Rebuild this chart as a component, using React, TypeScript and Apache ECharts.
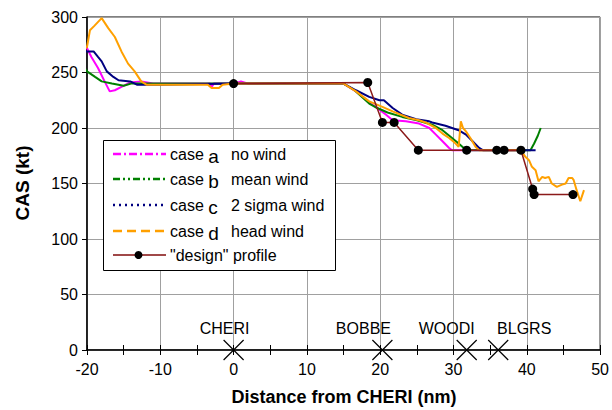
import React, { useEffect, useRef } from "react";
import * as echarts from "echarts";

// ---- data (distance nm, CAS kt) ----
const caseA: number[][] = [
  [-21, 284], [-20.5, 276], [-20, 272], [-19.4, 264], [-18.5, 254], [-17.6, 242], [-16.9, 233],
  [-16.2, 234], [-15.3, 237], [-14.1, 241], [-12.6, 242], [-11, 240], [-3.2, 240], [-3, 237],
  [-2.7, 240], [0, 240], [1, 242], [2, 240], [15, 240], [16.7, 233], [18.5, 223], [19.8, 217],
  [20.8, 212], [21.7, 207], [23.5, 206], [25.3, 204], [26.7, 200], [27.6, 194], [28.5, 188],
  [29.4, 182], [29.8, 180], [38.5, 180],
];
const caseB: number[][] = [
  [-21, 260], [-20, 251], [-18.9, 246], [-18, 242], [-16.6, 240], [-15, 238], [-14, 240],
  [-10, 240], [0, 240], [15, 240], [16.5, 234], [18.5, 222], [19.6, 218], [21, 214], [23, 210],
  [25, 207], [27.1, 203], [28.5, 198], [29.8, 191], [30.7, 186], [31.4, 182], [32, 180],
  [40.5, 180], [41, 186], [41.5, 193], [41.9, 200],
];
const caseC: number[][] = [
  [-21, 266], [-20.5, 266], [-20.2, 269], [-19.1, 269], [-18.5, 264], [-18, 260], [-17.3, 251],
  [-16.4, 246], [-15.7, 243], [-14.1, 242], [-13.2, 239], [-10, 239], [0, 240], [15, 240],
  [16.7, 234], [18.5, 228], [19.9, 225], [20.5, 225], [21.7, 218], [23, 212], [24.9, 208],
  [26.7, 206], [27.1, 205], [28.9, 202], [29.8, 200], [30.7, 198], [31.7, 194], [32.6, 188],
  [33.5, 182], [34, 180], [41.2, 180],
];
const caseD: number[][] = [
  [-21, 268], [-20, 273], [-19.6, 288], [-19, 292], [-18, 299], [-17.1, 290], [-16.2, 282],
  [-15.3, 269], [-14.4, 258], [-13.5, 251], [-12.6, 242], [-11.9, 239], [-10, 239], [-3.5, 239],
  [-3, 236], [-2, 236], [-1.5, 239], [0, 240], [15, 240], [16.7, 233], [18.5, 224], [20.3, 219],
  [21.7, 215], [23.9, 209], [25.3, 207], [26.2, 205], [27.6, 200], [28.5, 195], [29.4, 191],
  [30.3, 186], [30.7, 183], [31, 206], [31.3, 200], [31.7, 197], [32.3, 191], [33, 183],
  [33.5, 180], [38.5, 180], [39.1, 181], [39.8, 174], [40.3, 171], [40.7, 165], [41.2, 162],
  [41.6, 152], [42.1, 156], [42.5, 155], [43, 156], [43.4, 150], [44.1, 147], [44.8, 149],
  [45.3, 150], [45.7, 155], [46.2, 155], [46.4, 153], [46.8, 144], [47.3, 134], [47.8, 144],
];
const designProfile: number[][] = [
  [0, 240], [18.3, 241], [20.3, 205], [21.9, 205], [25.2, 180], [31.8, 180], [35.9, 180],
  [36.9, 180], [39.2, 180], [40.8, 145], [41.0, 140], [46.3, 140],
];
const waypointNames = ["CHERI", "BOBBE", "WOODI", "BLGRS"];
const waypointDist = [0, 20.3, 31.8, 36.1];

const legendLetters = ["a", "b", "c", "d"];
const legendDescs = ["no wind", "mean wind", "2 sigma wind", "head wind"];
const designLabel = '"design" profile';

// ---- styles ----
const FONT = "'Liberation Sans', Arial, sans-serif";
const colors = ["#ff00ff", "#008000", "#000080", "#ffa000"];
const designColor = "#8b1a1a";
const legendDash = [[8, 3, 2, 3], [7, 3, 2, 3, 2, 3], [2, 4], [9, 5]];
const waypointLabelOffset: Record<string, number> = { CHERI: -9, BOBBE: -19, WOODI: -20, BLGRS: 26 };

export default function App() {
  const ref = useRef<HTMLDivElement>(null);
  useEffect(() => {
    if (!ref.current) return;
    const chart = echarts.init(ref.current, null, { renderer: "svg" });

    const caseSeries = [caseA, caseB, caseC, caseD].map((d, i) => ({
      type: "line",
      data: d,
      showSymbol: false,
      clip: false,
      lineStyle: { color: colors[i], width: 2 },
      itemStyle: { color: colors[i] },
      z: 2 + i,
    }));

    const legendX0 = 103.5, legendY0 = 140.5;
    const rowY = [154, 179, 205, 231, 255];
    const legendEls: any[] = [
      {
        type: "rect",
        shape: { x: legendX0, y: legendY0, width: 232, height: 130 },
        style: { fill: "#fff", stroke: "#000", lineWidth: 1 },
        z: 100,
      },
    ];
    for (let i = 0; i < 4; i++) {
      legendEls.push({
        type: "line",
        shape: { x1: 113, y1: rowY[i], x2: 166, y2: rowY[i] },
        style: { stroke: colors[i], lineWidth: 2.5, lineDash: legendDash[i] },
        z: 101,
      });
      legendEls.push({
        type: "text",
        x: 170,
        y: rowY[i],
        style: {
          text: "{n|case }{l|" + legendLetters[i] + "}",
          verticalAlign: "middle",
          rich: {
            n: { fontSize: 16, fontFamily: FONT, fill: "#000" },
            l: { fontSize: 19, fontFamily: FONT, fill: "#000", padding: [4, 0, 0, 0] },
          },
        },
        z: 101,
      });
      legendEls.push({
        type: "text",
        x: 231,
        y: rowY[i],
        style: { text: legendDescs[i], fontSize: 16, fontFamily: FONT, fill: "#000", verticalAlign: "middle" },
        z: 101,
      });
    }
    legendEls.push({
      type: "line",
      shape: { x1: 113, y1: rowY[4], x2: 166, y2: rowY[4] },
      style: { stroke: "#a04848", lineWidth: 2 },
      z: 101,
    });
    legendEls.push({
      type: "circle",
      shape: { cx: 138.5, cy: rowY[4], r: 4 },
      style: { fill: "#000" },
      z: 102,
    });
    legendEls.push({
      type: "text",
      x: 170,
      y: rowY[4],
      style: { text: designLabel, fontSize: 16, fontFamily: FONT, fill: "#000", verticalAlign: "middle" },
      z: 101,
    });

    chart.setOption({
      animation: false,
      backgroundColor: "#fff",
      grid: {
        left: 87, right: 11, top: 17, bottom: 60,
        show: true, borderColor: "#000", borderWidth: 1, backgroundColor: "transparent",
      },
      xAxis: [
        {
          type: "value", min: -20, max: 50, interval: 10,
          axisLine: { show: true, onZero: false, lineStyle: { color: "#000", width: 1.5 } },
          axisTick: { show: true, length: 5, lineStyle: { color: "#000" } },
          minorTick: { show: true, splitNumber: 2, length: 5, lineStyle: { color: "#000" } },
          axisLabel: { fontSize: 16, fontFamily: FONT, color: "#000", margin: 11 },
          splitLine: { show: true, lineStyle: { color: "#a0a0a0", width: 1 } },
        },
        {
          type: "value", min: -20, max: 50, interval: 10, position: "bottom",
          axisLine: { show: false, onZero: false },
          axisTick: { show: true, inside: true, length: 5, lineStyle: { color: "#000" } },
          minorTick: { show: true, splitNumber: 2, length: 5, lineStyle: { color: "#000" } },
          axisLabel: { show: false },
          splitLine: { show: false },
        },
      ],
      yAxis: {
        type: "value", min: 0, max: 300, interval: 50,
        axisLine: { show: true, onZero: false, lineStyle: { color: "#000", width: 1.5 } },
        axisTick: { show: true, length: 5, lineStyle: { color: "#000" } },
        axisLabel: { fontSize: 16, fontFamily: FONT, color: "#000", margin: 9 },
        splitLine: { show: true, lineStyle: { color: "#a0a0a0", width: 1 } },
      },
      series: [
        ...caseSeries,
        {
          type: "line",
          data: designProfile,
          symbol: "circle",
          symbolSize: 9,
          showSymbol: true,
          lineStyle: { color: designColor, width: 1.5 },
          itemStyle: { color: "#000" },
          z: 10,
        },
        {
          type: "scatter",
          data: waypointNames.map((n, i) => ({
            value: [waypointDist[i], 0],
            name: n,
            label: { offset: [waypointLabelOffset[n], 0] },
          })),
          symbol: "path://M0,0L20,20M20,0L0,20",
          symbolSize: 20,
          itemStyle: { color: "#000", borderColor: "#000", borderWidth: 1.2, opacity: 1 },
          label: {
            show: true, position: "top", distance: 3,
            formatter: (p: any) => p.name,
            fontSize: 16, fontFamily: FONT, color: "#000",
          },
          clip: false,
          z: 11,
        },
      ],
      graphic: [
        {
          type: "text",
          x: 344, y: 397,
          style: {
            text: "Distance from CHERI (nm)", fontSize: 18, fontWeight: "bold", fontFamily: FONT,
            fill: "#000", align: "center", verticalAlign: "middle",
          },
        },
        {
          type: "text",
          x: 22, y: 183, rotation: Math.PI / 2,
          style: {
            text: "CAS (kt)", fontSize: 19, fontWeight: "bold", fontFamily: FONT,
            fill: "#000", align: "center", verticalAlign: "middle",
          },
        },
        ...legendEls,
      ],
    });
    return () => chart.dispose();
  }, []);
  return <div ref={ref} style={{ width: 612, height: 410, position: "absolute", left: 0, top: 0 }} />;
}
